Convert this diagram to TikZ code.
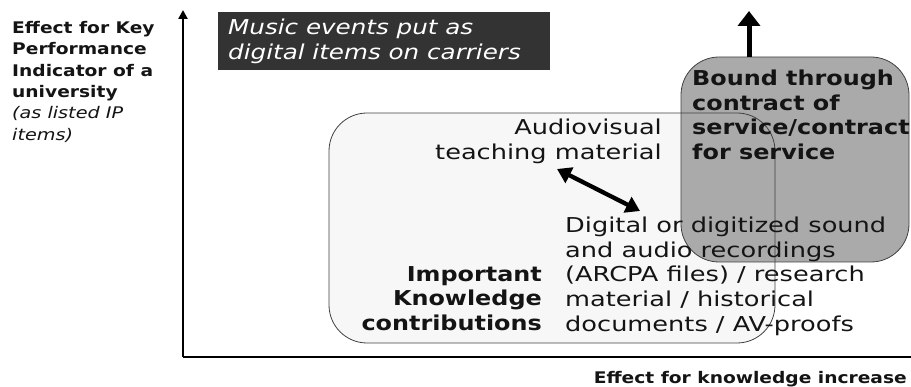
\documentclass[tikz,border=0pt]{standalone}
\usepackage{fontspec}
\setmainfont{DejaVu Sans}[
  UprightFeatures={FakeStretch=1.25},
  BoldFeatures={FakeStretch=1.165},
  ItalicFeatures={FakeStretch=1.2}]
\usetikzlibrary{arrows.meta}
\definecolor{darkbox}{HTML}{333333}
\definecolor{lightfill}{HTML}{F7F7F7}
\definecolor{grayfill}{HTML}{AAAAAA}
\definecolor{edge}{HTML}{404040}
\definecolor{ink}{HTML}{141414}
\begin{document}
\begin{tikzpicture}[x=1pt,y=-1pt,
  body/.style={inner sep=0pt, text=ink, font=\fontsize{20.5}{24.6}\selectfont},
  small/.style={inner sep=0pt, text=ink, font=\fontsize{16}{21.4}\selectfont},
  axis/.style={line width=2.6pt, draw=black},
  bigarrow/.style={line width=5pt, -{Triangle[width=22pt,length=15pt]}},
  dblarrow/.style={line width=4.3pt, {Triangle[width=17pt,length=14pt]}-{Triangle[width=17pt,length=14pt]}}
]
\useasboundingbox (0,0) rectangle (911,387);

% axes
\coordinate (origin) at (183,357);
\coordinate (ytop) at (183,10);
\coordinate (xend) at (911,357);
\draw[axis, -{Triangle[width=9pt,length=9pt]}] (origin) -- (ytop);
\draw[axis] (origin) -- (xend);

% axis labels
\node[small, anchor=north west, align=left] (ylab) at (12,21)
  {\textbf{Effect for Key}\\\textbf{Performance}\\\textbf{Indicator of a}\\\textbf{university}\\\textit{(as listed IP}\\\textit{items)}};
\node[small, anchor=north east] (xlab) at (907,371) {\textbf{Effect for knowledge increase}};

% dark title box
\node[fill=darkbox, minimum width=332pt, minimum height=58pt, inner sep=0pt] (music) at (384,41) {};
\node[body, text=white, anchor=north west, align=left] (musict) at (228,19)
  {\textit{Music events put as}\\\textit{digital items on carriers}};

% light box fill
\path[fill=lightfill, rounded corners=38pt] (329,113) rectangle (775,343);
% gray box
\draw[fill=grayfill, draw=edge, line width=0.8pt, rounded corners=38pt] (681,57) rectangle (909,262);
\coordinate (graytop) at (749,57);
\coordinate (uptip) at (749,11);
\draw[bigarrow] (graytop) -- (uptip);
% light box border
\draw[draw=edge, line width=0.8pt, rounded corners=38pt] (329,113) rectangle (775,343);

% texts
\node[body, anchor=north west, align=left] (bound) at (692,70)
  {\textbf{Bound through}\\\textbf{contract of}\\\textbf{service/contract}\\\textbf{for service}};
\node[body, anchor=north east, align=right] (av) at (662,119)
  {Audiovisual\\teaching material};
\node[body, anchor=north west, align=left] (dig) at (565,217)
  {Digital or digitized sound\\and audio recordings\\(ARCPA files) / research\\material / historical\\documents / AV-proofs};
\node[body, anchor=north east, align=right] (ikc) at (542,266)
  {\textbf{Important}\\\textbf{Knowledge}\\\textbf{contributions}};

\coordinate (a1) at (557,169);
\coordinate (a2) at (640,211);
\draw[dblarrow] (a1) -- (a2);
\end{tikzpicture}
\end{document}
